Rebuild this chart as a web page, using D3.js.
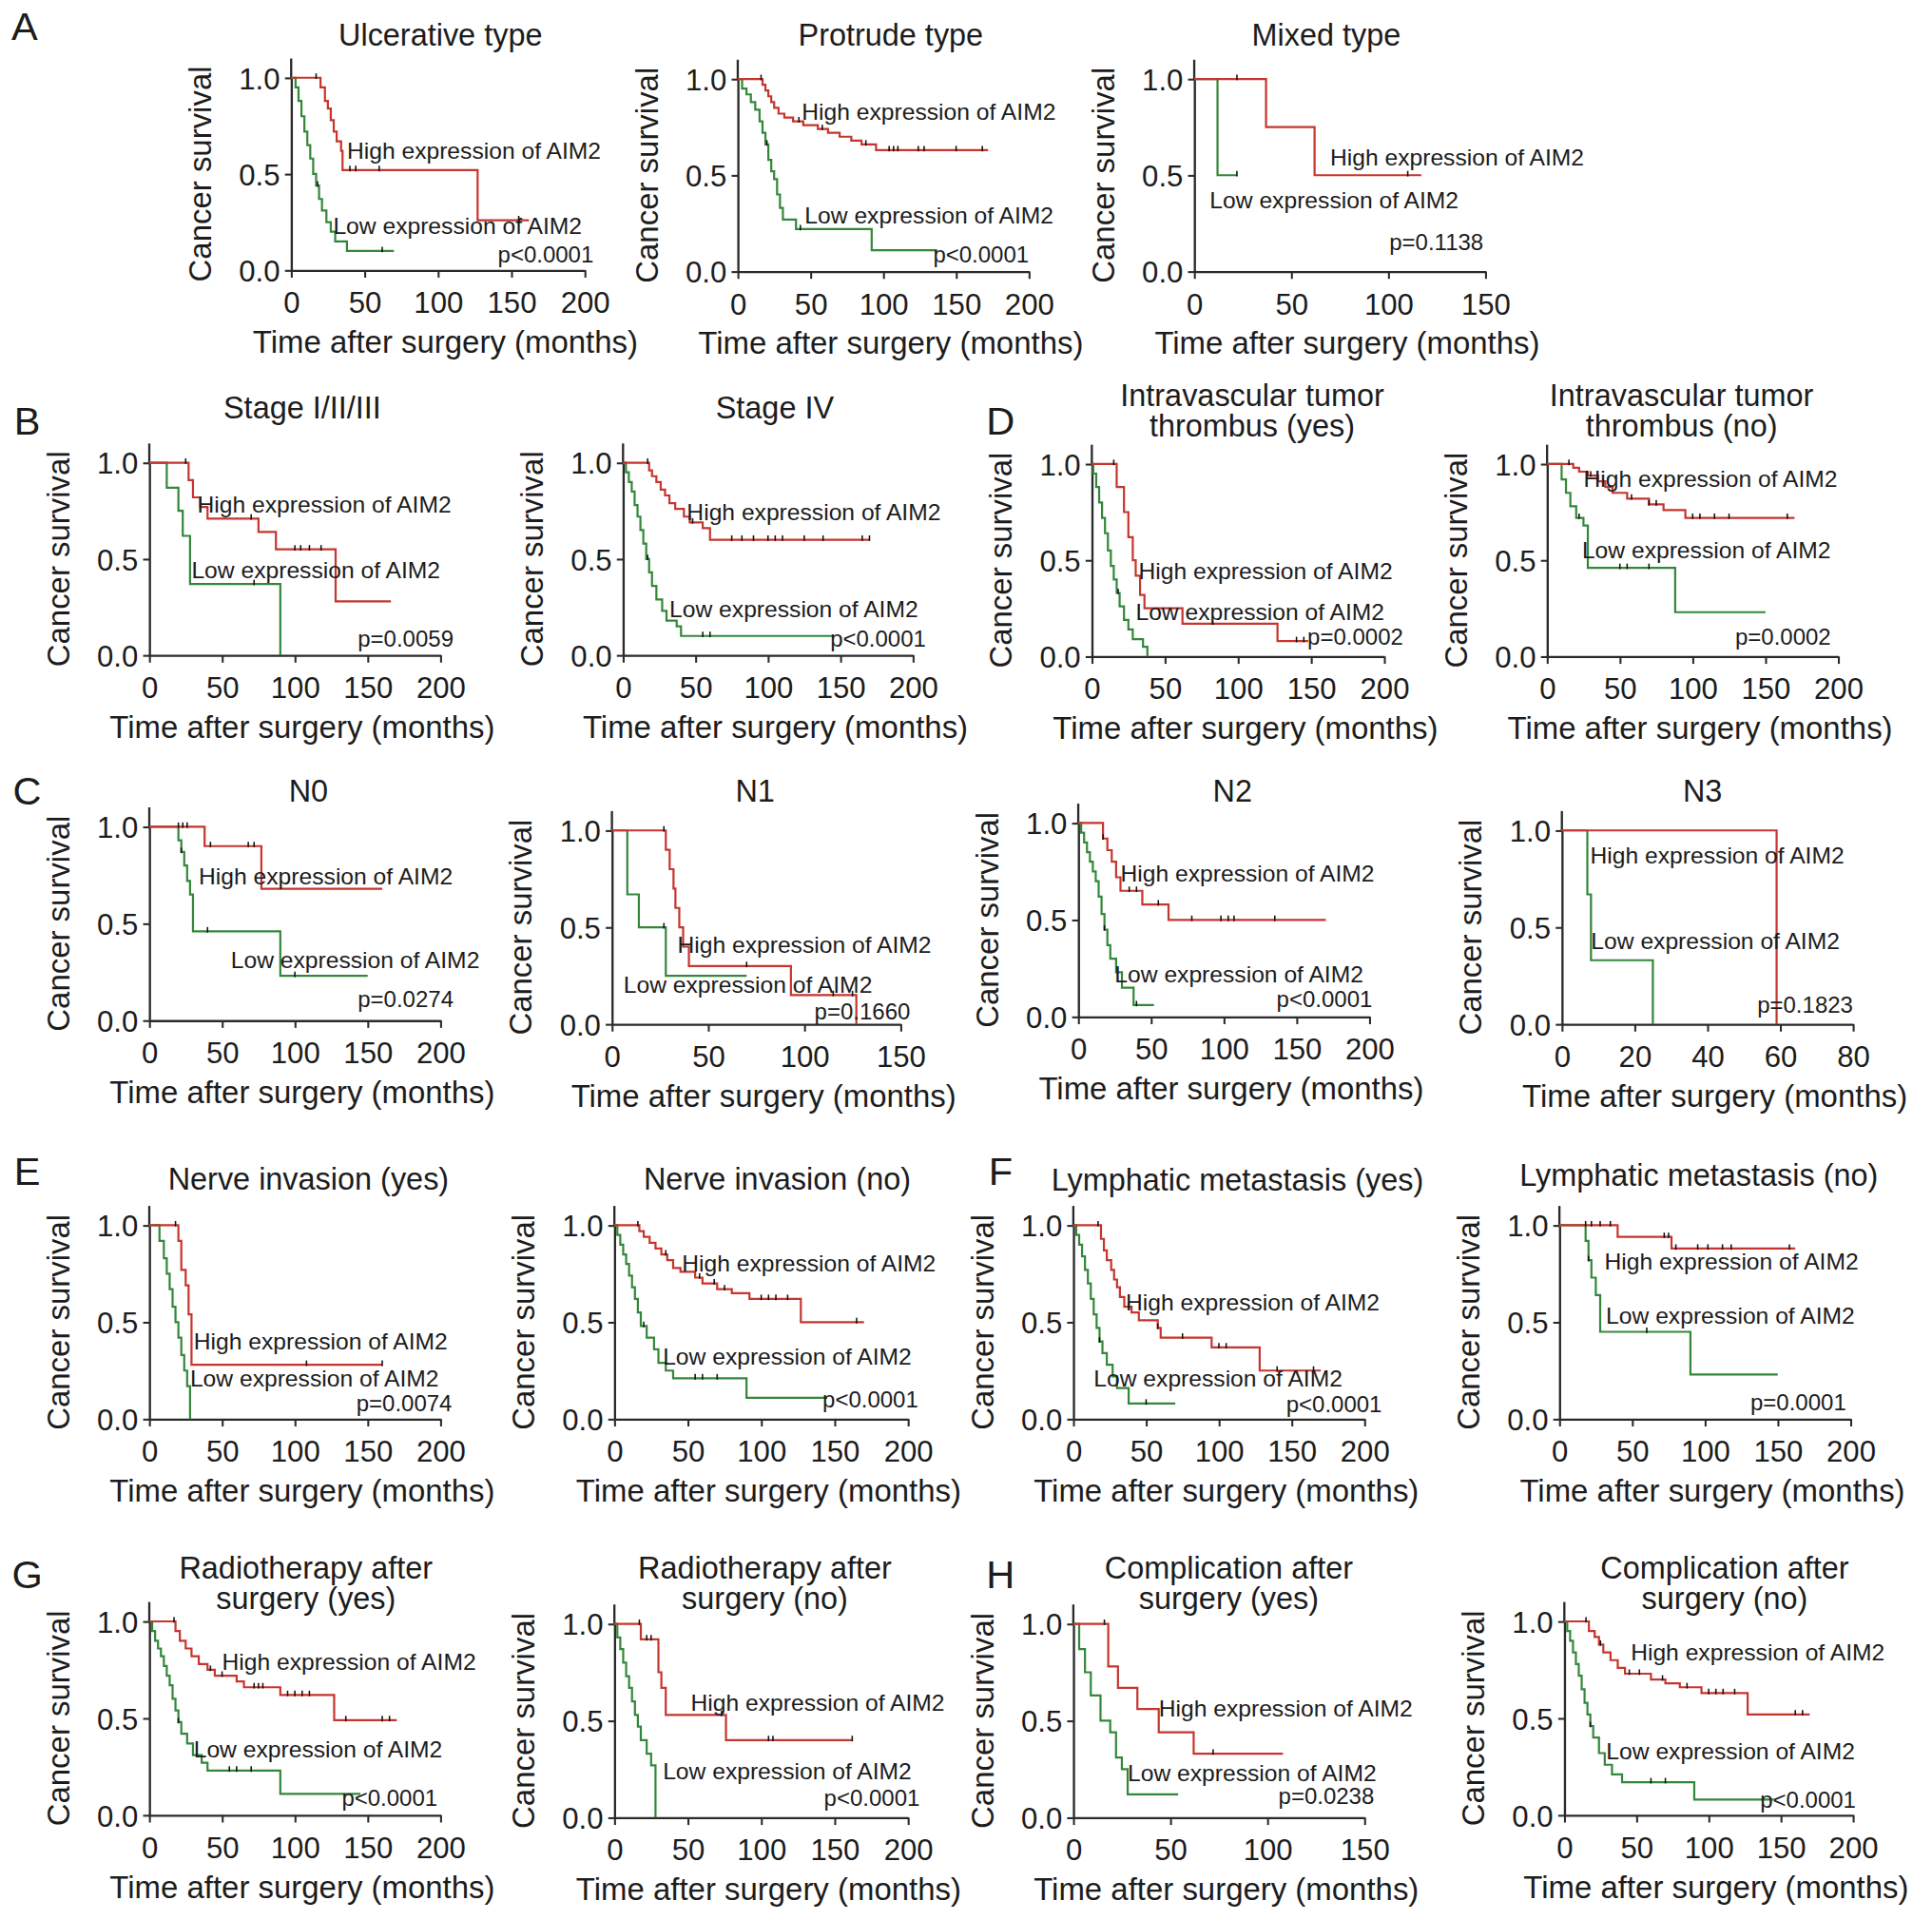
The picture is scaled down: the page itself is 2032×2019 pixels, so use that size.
<html>
<head>
<script src="https://d3js.org/d3.v7.min.js"></script>
<style>
  body { margin: 0; background: #fff; }
  text { font-family: "Liberation Sans", Arial, Helvetica, sans-serif; fill: #1c1c1c; }
</style>
</head>
<body>
<svg id="fig" width="2032" height="2019" viewBox="0 0 1566 1556"></svg>
<script>
// ---- survival curves: [time, survival] steps, last point = end of follow-up
var ulcerHigh = [[0,1],[20,0.95],[23,0.88],[25,0.84],[27,0.78],[29,0.72],[31,0.67],[34,0.62],[35,0.52],[127,0.26],[162,0.26]];
var ulcerHighCens = [17,40,44,60,155];
var ulcerLow = [[0,1],[3,0.95],[5,0.88],[7,0.8],[9,0.72],[11,0.65],[13,0.58],[15,0.5],[17,0.44],[19,0.37],[21,0.31],[24,0.25],[27,0.2],[30,0.15],[38,0.1],[70,0.1]];
var ulcerLowCens = [18,62];

var protHigh = [[0,1],[17,0.97],[19,0.94],[21,0.91],[23,0.88],[25,0.85],[28,0.82],[32,0.8],[38,0.78],[45,0.76],[55,0.74],[62,0.72],[70,0.7],[78,0.68],[85,0.66],[95,0.63],[172,0.63]];
var protHighCens = [16,42,58,88,104,107,110,124,128,150,168];
var protLow = [[0,1],[3,0.95],[6,0.92],[9,0.88],[12,0.84],[15,0.78],[17,0.72],[19,0.66],[21,0.58],[23,0.52],[25,0.48],[27,0.4],[29,0.33],[31,0.27],[40,0.22],[92,0.11],[137,0.11]];
var protLowCens = [20,43];

var mixHigh = [[0,1],[37,0.75],[62,0.5],[117,0.5]];
var mixHighCens = [22,110];
var mixLow = [[0,1],[12,0.5],[22,0.5]];
var mixLowCens = [22];

var st13High = [[0,1],[27,0.91],[30,0.82],[35,0.77],[40,0.71],[75,0.64],[87,0.55],[128,0.28],[166,0.28]];
var st13HighCens = [25,70,100,104,110,118];
var st13Low = [[0,1],[12,0.87],[20,0.75],[23,0.62],[28,0.37],[90,0]];
var st13LowCens = [72];

var st4High = [[0,1],[18,0.96],[20,0.93],[23,0.9],[26,0.86],[29,0.83],[32,0.79],[36,0.76],[42,0.72],[46,0.69],[55,0.66],[60,0.6],[170,0.6]];
var st4HighCens = [17,48,75,82,90,100,105,110,125,138,165,170];
var st4Low = [[0,1],[2,0.95],[4,0.9],[6,0.85],[8,0.78],[10,0.72],[12,0.65],[14,0.58],[16,0.5],[18,0.43],[20,0.36],[23,0.29],[27,0.23],[30,0.18],[37,0.15],[40,0.1],[145,0.1]];
var st4LowCens = [17,55,60];

var thrYesHigh = [[0,1],[17,0.88],[22,0.75],[25,0.62],[28,0.5],[30,0.42],[33,0.32],[36,0.25],[62,0.17],[127,0.08],[148,0.08]];
var thrYesHighCens = [15,140,145];
var thrYesLow = [[0,1],[1,0.95],[3,0.88],[5,0.8],[7,0.72],[9,0.64],[11,0.55],[13,0.47],[15,0.4],[17,0.33],[19,0.26],[22,0.19],[25,0.14],[28,0.09],[35,0.05],[38,0]];
var thrYesLowCens = [18];

var thrNoHigh = [[0,1],[18,0.98],[22,0.96],[28,0.94],[35,0.91],[40,0.88],[45,0.85],[55,0.82],[70,0.79],[80,0.76],[95,0.72],[170,0.72]];
var thrNoHighCens = [15,30,58,70,75,100,105,115,125,165];
var thrNoLow = [[0,1],[10,0.92],[13,0.85],[16,0.78],[20,0.72],[25,0.68],[28,0.46],[88,0.23],[150,0.23]];
var thrNoLowCens = [22,50,55,70];

var n0High = [[0,1],[38,0.9],[77,0.68],[160,0.68]];
var n0HighCens = [20,23,26,42,68,72];
var n0Low = [[0,1],[20,0.93],[22,0.87],[24,0.8],[26,0.72],[28,0.65],[30,0.46],[90,0.23],[150,0.23]];
var n0LowCens = [22,40,100];

var n1High = [[0,1],[28,0.9],[30,0.8],[32,0.7],[33,0.6],[35,0.5],[37,0.4],[40,0.3],[93,0.15],[127,0]];
var n1HighCens = [27,70,115,125];
var n1Low = [[0,1],[8,0.67],[14,0.5],[28,0.25],[70,0.25]];
var n1LowCens = [27];

var n2High = [[0,1],[17,0.92],[20,0.86],[23,0.8],[26,0.72],[29,0.65],[44,0.58],[62,0.5],[170,0.5]];
var n2HighCens = [17,35,40,55,78,98,103,107,135];
var n2Low = [[0,1],[2,0.95],[4,0.9],[6,0.85],[8,0.8],[10,0.75],[12,0.7],[14,0.62],[16,0.53],[18,0.45],[20,0.37],[22,0.3],[26,0.23],[30,0.15],[38,0.06],[52,0.06]];
var n2LowCens = [18,40];

var n3High = [[0,1],[59,0]];
var n3HighCens = [];
var n3Low = [[0,1],[7,0.67],[8,0.33],[25,0]];
var n3LowCens = [];

var nerveYesHigh = [[0,1],[20,0.92],[22,0.77],[25,0.69],[27,0.54],[29,0.28],[160,0.28]];
var nerveYesHighCens = [18,108,160];
var nerveYesLow = [[0,1],[7,0.92],[10,0.83],[12,0.75],[14,0.67],[16,0.58],[18,0.5],[20,0.42],[22,0.33],[24,0.25],[26,0.17],[28,0]];
var nerveYesLowCens = [];

var nerveNoHigh = [[0,1],[17,0.97],[20,0.94],[24,0.91],[28,0.88],[32,0.85],[36,0.82],[40,0.78],[45,0.76],[55,0.73],[60,0.7],[70,0.67],[80,0.65],[92,0.62],[127,0.5],[170,0.5]];
var nerveNoHighCens = [16,35,58,68,75,100,105,110,118,165];
var nerveNoLow = [[0,1],[2,0.95],[4,0.9],[6,0.85],[8,0.8],[10,0.74],[12,0.68],[14,0.62],[16,0.55],[18,0.48],[22,0.42],[27,0.36],[30,0.29],[35,0.25],[40,0.21],[90,0.11],[145,0.11]];
var nerveNoLowCens = [20,55,60,70];

var lymYesHigh = [[0,1],[19,0.93],[21,0.87],[23,0.82],[26,0.77],[28,0.72],[30,0.68],[32,0.63],[35,0.58],[40,0.55],[45,0.51],[58,0.47],[60,0.42],[95,0.37],[128,0.25],[170,0.25]];
var lymYesHighCens = [17,38,58,75,100,105,140,165];
var lymYesLow = [[0,1],[2,0.95],[4,0.9],[6,0.84],[8,0.77],[10,0.7],[12,0.62],[14,0.54],[16,0.47],[18,0.4],[20,0.34],[23,0.28],[27,0.22],[30,0.16],[38,0.08],[70,0.08]];
var lymYesLowCens = [18,50];

var lymNoHigh = [[0,1],[40,0.94],[77,0.88],[162,0.88]];
var lymNoHighCens = [18,22,28,35,72,75,80,95,102,112,118,158];
var lymNoLow = [[0,1],[18,0.92],[20,0.82],[22,0.73],[25,0.64],[28,0.45],[90,0.23],[150,0.23]];
var lymNoLowCens = [20,60];

var radYesHigh = [[0,1],[18,0.95],[21,0.9],[25,0.86],[29,0.82],[34,0.78],[40,0.75],[45,0.72],[60,0.69],[65,0.66],[90,0.62],[127,0.49],[170,0.49]];
var radYesHighCens = [17,42,50,72,75,78,95,100,105,110,135,160,165];
var radYesLow = [[0,1],[2,0.95],[4,0.9],[6,0.86],[8,0.82],[10,0.77],[12,0.72],[14,0.67],[16,0.6],[18,0.54],[20,0.48],[22,0.42],[26,0.37],[30,0.31],[36,0.27],[40,0.23],[90,0.11],[145,0.11]];
var radYesLowCens = [20,55,60,70];

var radNoHigh = [[0,1],[18,0.92],[30,0.75],[32,0.67],[35,0.53],[76,0.4],[162,0.4]];
var radNoHighCens = [17,22,25,73,105,108,162];
var radNoLow = [[0,1],[2,0.93],[4,0.87],[6,0.8],[8,0.73],[10,0.67],[12,0.6],[14,0.53],[16,0.47],[18,0.4],[22,0.33],[25,0.27],[28,0]];
var radNoLowCens = [];

var compYesHigh = [[0,1],[18,0.78],[23,0.67],[33,0.56],[44,0.44],[62,0.33],[108,0.33]];
var compYesHighCens = [16,72];
var compYesLow = [[0,1],[3,0.87],[6,0.75],[9,0.63],[14,0.5],[19,0.44],[22,0.31],[25,0.25],[28,0.12],[54,0.12]];
var compYesLowCens = [];

var compNoHigh = [[0,1],[17,0.95],[21,0.92],[24,0.88],[27,0.84],[32,0.8],[37,0.76],[42,0.73],[60,0.7],[70,0.68],[80,0.66],[95,0.63],[127,0.52],[170,0.52]];
var compNoHighCens = [15,25,45,52,68,85,100,105,110,118,160,165];
var compNoLow = [[0,1],[2,0.95],[4,0.9],[6,0.84],[8,0.78],[10,0.72],[12,0.65],[14,0.58],[16,0.52],[18,0.46],[20,0.4],[24,0.32],[28,0.26],[33,0.21],[40,0.17],[90,0.08],[145,0.08]];
var compNoLowCens = [18,60,70];

// ---- panel text
var titles = [
  ["Ulcerative type"], ["Protrude type"], ["Mixed type"],
  ["Stage I/II/III"], ["Stage IV"],
  ["Intravascular tumor", "thrombus (yes)"], ["Intravascular tumor", "thrombus (no)"],
  ["N0"], ["N1"], ["N2"], ["N3"],
  ["Nerve invasion (yes)"], ["Nerve invasion (no)"],
  ["Lymphatic metastasis (yes)"], ["Lymphatic metastasis (no)"],
  ["Radiotherapy after", "surgery (yes)"], ["Radiotherapy after", "surgery (no)"],
  ["Complication after", "surgery (yes)"], ["Complication after", "surgery (no)"]
];
var pValues = ["p<0.0001", "p<0.0001", "p=0.1138", "p=0.0059", "p<0.0001", "p=0.0002", "p=0.0002",
  "p=0.0274", "p=0.1660", "p<0.0001", "p=0.1823", "p=0.0074", "p<0.0001", "p<0.0001", "p=0.0001",
  "p<0.0001", "p<0.0001", "p=0.0238", "p<0.0001"];
var xMax = [200, 200, 150, 200, 200, 200, 200, 200, 150, 200, 80, 200, 200, 200, 200, 200, 200, 150, 200];
var highCurves = [ulcerHigh, protHigh, mixHigh, st13High, st4High, thrYesHigh, thrNoHigh, n0High, n1High, n2High, n3High,
  nerveYesHigh, nerveNoHigh, lymYesHigh, lymNoHigh, radYesHigh, radNoHigh, compYesHigh, compNoHigh];
var lowCurves = [ulcerLow, protLow, mixLow, st13Low, st4Low, thrYesLow, thrNoLow, n0Low, n1Low, n2Low, n3Low,
  nerveYesLow, nerveNoLow, lymYesLow, lymNoLow, radYesLow, radNoLow, compYesLow, compNoLow];
var highCens = [ulcerHighCens, protHighCens, mixHighCens, st13HighCens, st4HighCens, thrYesHighCens, thrNoHighCens,
  n0HighCens, n1HighCens, n2HighCens, n3HighCens, nerveYesHighCens, nerveNoHighCens, lymYesHighCens, lymNoHighCens,
  radYesHighCens, radNoHighCens, compYesHighCens, compNoHighCens];
var lowCens = [ulcerLowCens, protLowCens, mixLowCens, st13LowCens, st4LowCens, thrYesLowCens, thrNoLowCens,
  n0LowCens, n1LowCens, n2LowCens, n3LowCens, nerveYesLowCens, nerveNoLowCens, lymYesLowCens, lymNoLowCens,
  radYesLowCens, radNoLowCens, compYesLowCens, compNoLowCens];

// ---- layout (px in 1566-wide space): y-axis x, x-axis end, y of 1.0, y of 0.0, title centre, title baselines
var layout = [
  [236, 474, 63, 219, 357, [37]], [598, 834, 64, 220, 722, [37]], [968, 1204, 64, 220, 1075, [37]],
  [121, 357, 375, 531, 245, [339]], [505, 740, 375, 531, 628, [339]],
  [885, 1122, 376, 532, 1015, [329, 354]], [1254, 1490, 376, 532, 1363, [329, 354]],
  [121, 357, 670, 827, 250, [650]], [496, 730, 673, 830, 612, [650]], [874, 1110, 667, 824, 999, [650]], [1266, 1502, 673, 830, 1380, [650]],
  [121, 357, 993, 1150, 250, [964]], [498, 736, 993, 1150, 630, [964]],
  [870, 1106, 993, 1150, 1003, [965]], [1264, 1500, 993, 1150, 1377, [961]],
  [121, 357, 1314, 1471, 248, [1279, 1304]], [498, 736, 1316, 1473, 620, [1279, 1304]],
  [870, 1106, 1316, 1473, 996, [1279, 1304]], [1268, 1502, 1314, 1471, 1398, [1279, 1304]]
];
// annotation anchors in data units: high label, low label, p-value (right aligned)
var labelPos = [
  [[38,0.58],[28.6,0.19],[206,0.04]], [[44,0.79],[46,0.25],[200,0.045]], [[70,0.55],[8,0.33],[149,0.11]],
  [[33,0.74],[29,0.40],[209,0.045]], [[44,0.70],[32,0.20],[209,0.045]],
  [[32,0.40],[30,0.19],[213,0.06]], [[25,0.88],[24,0.51],[195,0.06]],
  [[34,0.70],[56,0.27],[209,0.07]], [[34,0.37],[6,0.16],[155,0.022]], [[29,0.70],[25,0.18],[202,0.05]], [[7.8,0.83],[8,0.39],[80,0.06]],
  [[30.5,0.36],[28,0.17],[208,0.04]], [[46,0.76],[33,0.28],[207,0.06]],
  [[36,0.56],[14,0.17],[212,0.035]], [[31,0.77],[32,0.49],[197,0.045]],
  [[50,0.75],[30.5,0.30],[198,0.05]], [[52,0.55],[33,0.20],[208,0.06]],
  [[44,0.52],[28,0.19],[155,0.07]], [[46,0.80],[29,0.29],[202,0.04]]
];
var letters = [["A", 20, 32], ["B", 22, 352], ["C", 22, 652], ["D", 811, 352], ["E", 22, 960], ["F", 811, 960], ["G", 22, 1287], ["H", 811, 1287]];

var red = "#c6352e", green = "#33873a", axisCol = "#2a2a2a";
var svg = d3.select("#fig");

function survAt(curve, t) {
  var s = 1;
  curve.forEach(function (p) { if (p[0] <= t) s = p[1]; });
  return s;
}

layout.forEach(function (L, i) {
  var x = d3.scaleLinear().domain([0, xMax[i]]).range([L[0], L[1]]);
  var y = d3.scaleLinear().domain([0, 1]).range([L[3], L[2]]);
  var g = svg.append("g");

  // title
  titles[i].forEach(function (t, k) {
    g.append("text").attr("x", L[4]).attr("y", L[5][k]).attr("text-anchor", "middle")
      .style("font-size", "25px").text(t);
  });

  // axes
  var xa = g.append("g").attr("transform", "translate(0," + L[3] + ")")
    .call(d3.axisBottom(x).tickValues(d3.range(0, xMax[i] + 1, xMax[i] === 80 ? 20 : 50))
      .tickSizeInner(6).tickSizeOuter(0).tickPadding(6));
  var ya = g.append("g").attr("transform", "translate(" + L[0] + ",0)")
    .call(d3.axisLeft(y).tickValues([0, 0.5, 1]).tickFormat(d3.format(".1f"))
      .tickSizeInner(5).tickSizeOuter(0).tickPadding(4));
  [xa, ya].forEach(function (a) {
    a.select(".domain").attr("stroke", axisCol).attr("stroke-width", 1.8);
    a.selectAll(".tick line").attr("stroke", axisCol).attr("stroke-width", 1.6);
    a.selectAll(".tick text").style("font-size", "24px").attr("fill", "#1c1c1c")
      .style("font-family", "'Liberation Sans', Arial, sans-serif");
  });
  xa.selectAll(".tick text").attr("dy", "0.95em");
  ya.selectAll(".tick text").attr("dy", "0.36em");
  // y-axis runs a little above 1.0
  g.append("line").attr("x1", L[0]).attr("x2", L[0]).attr("y1", y(1)).attr("y2", y(1.1))
    .attr("stroke", axisCol).attr("stroke-width", 1.8);

  // axis labels
  g.append("text").attr("x", (L[0] + L[1]) / 2 + 6).attr("y", L[3] + 67).attr("text-anchor", "middle")
    .style("font-size", "25.4px").text("Time after surgery (months)");
  g.append("text").attr("transform", "translate(" + (L[0] - 65) + "," + ((L[2] + L[3]) / 2) + ") rotate(-90)")
    .attr("text-anchor", "middle").style("font-size", "25.4px").text("Cancer survival");

  // curves
  var line = d3.line().x(function (d) { return x(d[0]); }).y(function (d) { return y(d[1]); }).curve(d3.curveStepAfter);
  [[lowCurves[i], lowCens[i], green], [highCurves[i], highCens[i], red]].forEach(function (c) {
    g.append("path").attr("d", line(c[0])).attr("fill", "none").attr("stroke", c[2]).attr("stroke-width", 1.7);
    g.selectAll(null).data(c[1]).enter().append("line")
      .attr("x1", function (d) { return x(d); }).attr("x2", function (d) { return x(d); })
      .attr("y1", function (d) { return y(survAt(c[0], d)) - 3.5; })
      .attr("y2", function (d) { return y(survAt(c[0], d)) + 1; })
      .attr("stroke", "#111").attr("stroke-width", 1.2);
  });

  // annotations
  var P = labelPos[i];
  g.append("text").attr("x", x(P[0][0])).attr("y", y(P[0][1])).style("font-size", "19px").text("High expression of AIM2");
  g.append("text").attr("x", x(P[1][0])).attr("y", y(P[1][1])).style("font-size", "19px").text("Low expression of AIM2");
  g.append("text").attr("x", x(P[2][0])).attr("y", y(P[2][1])).attr("text-anchor", "end").style("font-size", "18.5px").text(pValues[i]);
});

svg.selectAll(".letter").data(letters).enter().append("text").attr("class", "letter")
  .attr("x", function (d) { return d[1]; }).attr("y", function (d) { return d[2]; })
  .attr("text-anchor", "middle").style("font-size", "32px").text(function (d) { return d[0]; });
</script>
</body>
</html>
